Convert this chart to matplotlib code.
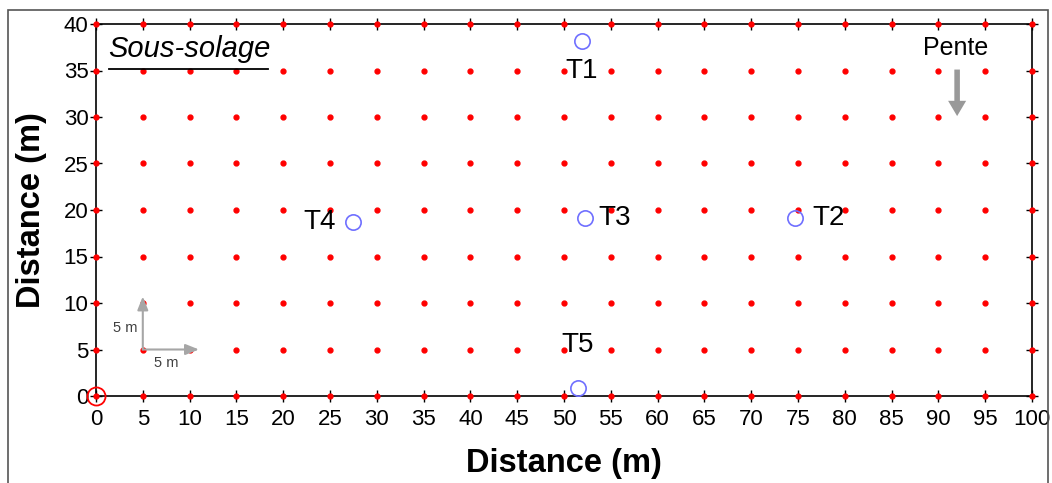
import matplotlib
matplotlib.use('Agg')
import matplotlib.pyplot as plt
import numpy as np
from matplotlib.patches import Rectangle

plt.rcParams['font.family'] = ['Liberation Sans', 'DejaVu Sans']

# grille d'échantillonnage (m)
grille_x = np.arange(0, 101, 5)
grille_y = np.arange(0, 41, 5)

# points T
noms = ['T1', 'T2', 'T3', 'T4', 'T5']
pts_x = [51.9, 74.7, 52.2, 27.5, 51.5]
pts_y = [38.2, 19.1, 19.1, 18.7, 0.9]

xticks = list(range(0, 101, 5))
yticks = list(range(0, 41, 5))

fig = plt.figure(figsize=(10.52, 4.83), dpi=100)
ax = fig.add_axes([96/1052, 87/483, 936/1052, 372/483])

# cadre autour de la figure
fig.patches.append(Rectangle((8/1052, -0.01), 1040/1052, 1 - 10/483 + 0.01,
                             transform=fig.transFigure, fill=False,
                             edgecolor='#555555', linewidth=1.2))

gx, gy = np.meshgrid(grille_x, grille_y)
ax.plot(gx.ravel(), gy.ravel(), 'o', color='red', markersize=3.5,
        linestyle='none', clip_on=False, zorder=3)

ax.plot(pts_x, pts_y, 'o', mfc='none', mec='#6f6fff', markersize=11,
        markeredgewidth=1.2, linestyle='none', zorder=4)
ax.plot([0], [0], 'o', mfc='none', mec='red', markersize=13,
        markeredgewidth=1.3, clip_on=False, zorder=4)

# étiquettes
ax.text(pts_x[0], pts_y[0] - 3.2, noms[0], fontsize=20, ha='center', va='center')
ax.text(pts_x[1] + 1.8, pts_y[1], noms[1], fontsize=20, ha='left', va='center')
ax.text(pts_x[2] + 1.5, pts_y[2], noms[2], fontsize=20, ha='left', va='center')
ax.text(pts_x[3] - 1.9, pts_y[3], noms[3], fontsize=20, ha='right', va='center')
ax.text(pts_x[4], pts_y[4] + 4.6, noms[4], fontsize=20, ha='center', va='center')

ax.text(1.3, 37.3, 'Sous-solage', fontsize=21, style='italic', ha='left', va='center')
ax.plot([1.4, 18.4], [35.2, 35.2], color='black', linewidth=1.3, zorder=3)

# pente
ax.text(91.8, 37.4, 'Pente', fontsize=18, ha='center', va='center')
ax.annotate('', xy=(92, 29.8), xytext=(92, 35.4),
            arrowprops=dict(arrowstyle='simple,head_width=1.3,head_length=1.1,tail_width=0.4',
                            color='#999999', lw=0))

# échelle 5 m
ax.annotate('', xy=(5, 10.7), xytext=(5, 5),
            arrowprops=dict(arrowstyle='-|>,head_width=0.32,head_length=0.8',
                            color='#a6a6a6', lw=1.5, shrinkA=0, shrinkB=0))
ax.annotate('', xy=(11, 5), xytext=(5, 5),
            arrowprops=dict(arrowstyle='-|>,head_width=0.32,head_length=0.8',
                            color='#a6a6a6', lw=1.5, shrinkA=0, shrinkB=0))
ax.text(4.4, 7.3, '5 m', fontsize=10.5, color='#404040', ha='right', va='center')
ax.text(7.5, 3.6, '5 m', fontsize=10.5, color='#404040', ha='center', va='center')

ax.set_xlim(0, 100)
ax.set_ylim(0, 40)
ax.set_xticks(xticks)
ax.set_yticks(yticks)
ax.tick_params(direction='inout', length=9, width=1, labelsize=16, pad=1,
               top=True, right=True)
ax.tick_params(axis='x', pad=5)
for s in ax.spines.values():
    s.set_linewidth(1.2)

ax.set_xlabel('Distance (m)', fontsize=23.5, fontweight='bold', labelpad=13)
ax.set_ylabel('Distance (m)', fontsize=23.5, fontweight='bold', labelpad=12)

fig.savefig('out.png', dpi=100)
